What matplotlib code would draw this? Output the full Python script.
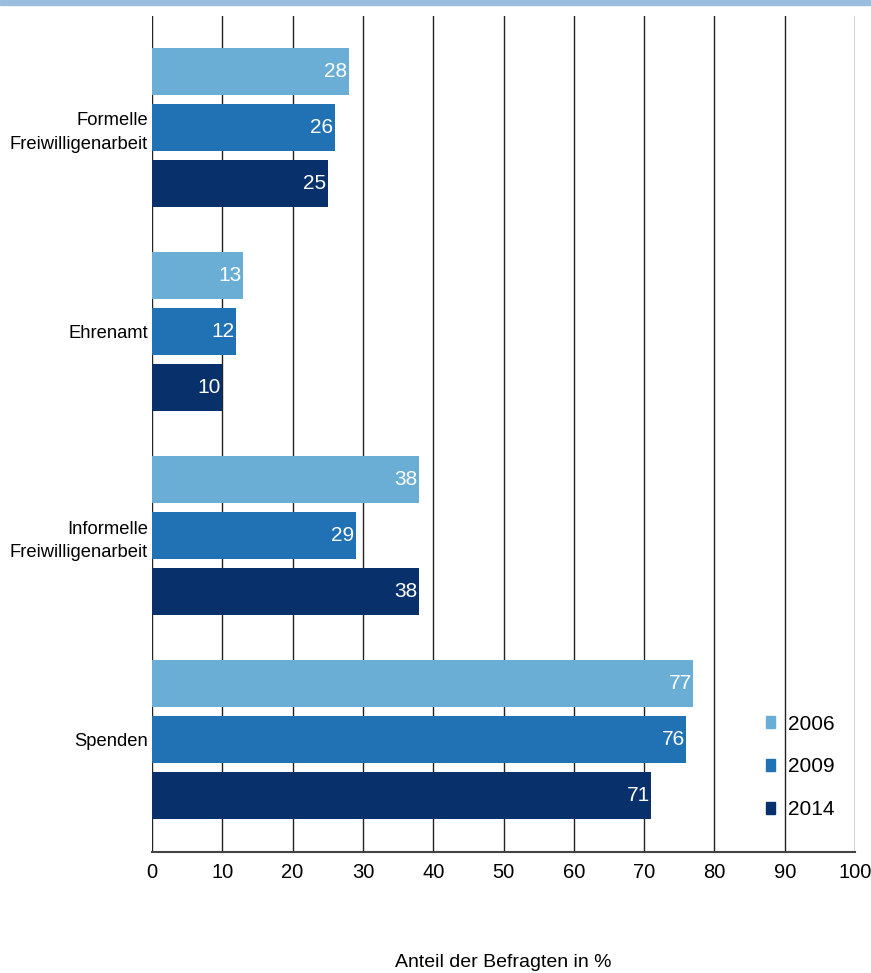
import numpy as np
import matplotlib.pyplot as plt
from matplotlib.patches import Patch, Rectangle

categories = ['Formelle\nFreiwilligenarbeit', 'Ehrenamt', 'Informelle\nFreiwilligenarbeit', 'Spenden']
years = ['2006', '2009', '2014']
v2006 = [28, 13, 38, 77]
v2009 = [26, 12, 29, 76]
v2014 = [25, 10, 38, 71]
colors = ['#6aaed6', '#2171b5', '#08306b']

plt.rcParams['font.family'] = ['Liberation Sans Narrow', 'Liberation Sans', 'DejaVu Sans']

fig = plt.figure(figsize=(8.71, 9.73), dpi=100)
ax = fig.add_axes([152/871, 1-852/973, 703/871, 836/973])

# light blue band along the top edge
fig.patches.append(Rectangle((0, 1-5/973), 1, 5/973, transform=fig.transFigure,
                             color='#9bbde0', zorder=0))

pos = np.arange(len(categories))
step = 0.274
h = 0.23
for j, (vals, yr) in enumerate(zip([v2006, v2009, v2014], years)):
    yy = pos + (j-1)*step
    ax.barh(yy, vals, height=h, color=colors[j], zorder=3)
    for y, v in zip(yy, vals):
        ax.text(v - 0.2, y, str(v), ha='right', va='center', color='white',
                fontsize=15, zorder=4)

ax.set_xlim(0, 100)
ax.set_ylim(3.55, -0.545)
ax.set_xticks(range(0, 101, 10))
ax.set_yticks(pos)
ax.set_yticklabels(categories, fontsize=13.2, ha='right', multialignment='right',
                   linespacing=1.5)
ax.tick_params(axis='both', length=0)
ax.tick_params(axis='x', labelsize=14.5, pad=8)
ax.tick_params(axis='y', pad=3)
ax.grid(axis='x', color='#222222', lw=1, zorder=1)
ax.set_axisbelow(True)
for s in ['top', 'right', 'left']:
    ax.spines[s].set_visible(False)
ax.spines['bottom'].set_color('#444444')
ax.spines['bottom'].set_linewidth(1.5)
ax.set_xlabel('Anteil der Befragten in %', fontsize=14, labelpad=52)

handles = [Patch(color=c) for c in colors]
ax.legend(handles, years, loc='center left', bbox_to_anchor=(0.874, 0.1017),
          frameon=False, fontsize=15, handlelength=0.4, handleheight=0.55,
          handletextpad=0.65, labelspacing=1.15, borderpad=0, borderaxespad=0)

plt.savefig('out.png', dpi=100)
